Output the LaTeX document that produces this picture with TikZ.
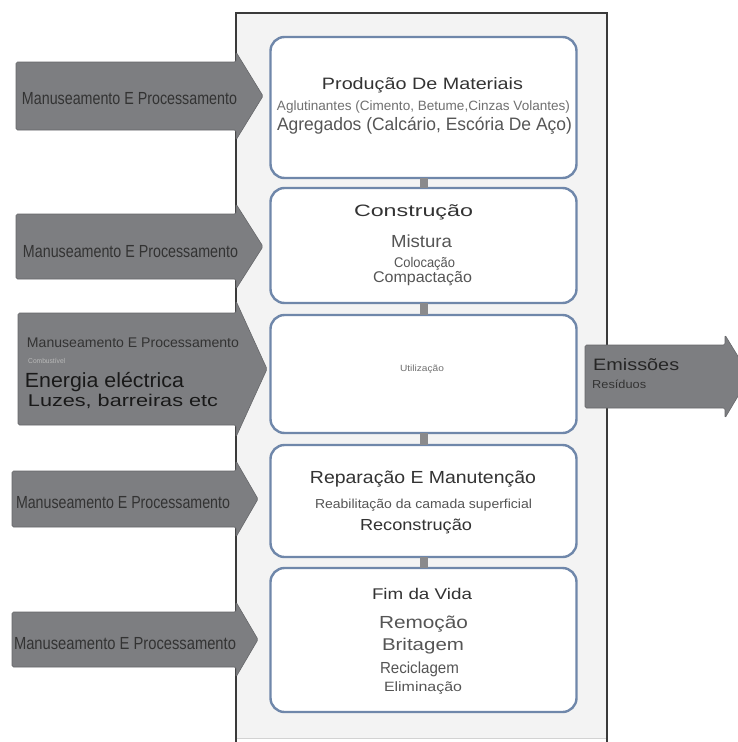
\documentclass[tikz,border=0pt]{standalone}
\usepackage{fontspec}
\setmainfont{Liberation Sans}
\usepackage{graphicx}
\newcommand\ftxt[3]{{\fontsize{#1}{#1}\selectfont\resizebox{#2pt}{\height}{#3}}}
\definecolor{boxc}{HTML}{6F87AA}
\definecolor{linkc}{HTML}{8A8A8C}
\definecolor{arrc}{HTML}{7D7E81}
\definecolor{arrd}{HTML}{66676A}
\definecolor{contf}{HTML}{F3F3F3}
\definecolor{contd}{HTML}{3A3A3A}
\definecolor{ta}{HTML}{333333}
\definecolor{tb}{HTML}{555555}
\definecolor{tc}{HTML}{707070}
\begin{document}
\begin{tikzpicture}[x=1pt,y=-1pt,
  stage/.style={draw=boxc, line width=2.4pt, fill=white, rounded corners=14pt, minimum width=306pt, inner sep=0},
  link/.style={draw=linkc, line width=8pt},
  flow/.style={fill=arrc, draw=arrd, line width=0.6pt, rounded corners=1.5pt},
  lbl/.style={inner sep=0, anchor=base},
  lblw/.style={inner sep=0, anchor=base west}]
\useasboundingbox (0,0) rectangle (738,742);
\fill[white] (0,0) rectangle (738,742);
% container
\fill[contf] (236,13) rectangle (607,738);
\draw[contd, line width=2pt] (236,742) -- (236,13) -- (607,13) -- (607,742);
\draw[gray!35, line width=1pt] (237,738) -- (606,738);
% stages
\node[stage, minimum height=141pt] (b1) at (423.5,107.5) {};
\node[stage, minimum height=115pt] (b2) at (423.5,245.5) {};
\node[stage, minimum height=118pt] (b3) at (423.5,374) {};
\node[stage, minimum height=112pt] (b4) at (423.5,501) {};
\node[stage, minimum height=144pt] (b5) at (423.5,640) {};
\draw[link] ([yshift=1pt]b1.south) -- ([yshift=-1pt]b2.north);
\draw[link] ([yshift=1pt]b2.south) -- ([yshift=-1pt]b3.north);
\draw[link] ([yshift=1pt]b3.south) -- ([yshift=-1pt]b4.north);
\draw[link] ([yshift=1pt]b4.south) -- ([yshift=-1pt]b5.north);
% left arrows
\draw[flow] (16,62) -- (236,62) -- (236,52) -- (263,96) -- (236,140) -- (236,130) -- (16,130) -- cycle;
\draw[flow] (16,214) -- (236,214) -- (236,204) -- (263,246.5) -- (236,289) -- (236,279) -- (16,279) -- cycle;
\draw[flow] (18,313) -- (236,313) -- (236,301) -- (267,369) -- (236,437) -- (236,425) -- (18,425) -- cycle;
\draw[flow] (12,471) -- (236,471) -- (236,461) -- (258,499) -- (236,537) -- (236,527) -- (12,527) -- cycle;
\draw[flow] (12,612) -- (236,612) -- (236,602) -- (258,639.5) -- (236,677) -- (236,667) -- (12,667) -- cycle;
% right arrow
\draw[flow] (585,345) -- (725,345) -- (725,335) -- (750,376) -- (725,418) -- (725,408) -- (585,408) -- cycle;
% box texts
\node[lbl, text=ta] (t1a) at (422.5,89) {\ftxt{16.5}{201}{Produção De Materiais}};
\node[lbl, text=tc] (t1b) at (423.5,110) {\ftxt{13.5}{293}{Aglutinantes (Cimento, Betume,Cinzas Volantes)}};
\node[lbl, text=tb] (t1c) at (424.5,130) {\ftxt{18}{295}{Agregados (Calcário, Escória De Aço)}};
\node[lbl, text=ta] (t2a) at (413.5,216) {\ftxt{16.5}{119}{Construção}};
\node[lbl, text=tb] (t2b) at (421.5,247) {\ftxt{17.5}{61}{Mistura}};
\node[lbl, text=tb] (t2c) at (424.5,267) {\ftxt{14}{61}{Colocação}};
\node[lbl, text=tb] (t2d) at (422.5,282) {\ftxt{15.5}{99}{Compactação}};
\node[lbl, text=tc] (t3a) at (422,371) {\ftxt{9}{44}{Utilização}};
\node[lbl, text=ta] (t4a) at (423,483) {\ftxt{17.5}{226}{Reparação E Manutenção}};
\node[lbl, text=tb] (t4b) at (423.5,508) {\ftxt{13}{217}{Reabilitação da camada superficial}};
\node[lbl, text=ta] (t4c) at (416,530) {\ftxt{16}{112}{Reconstrução}};
\node[lbl, text=ta] (t5a) at (422,599) {\ftxt{15.5}{100}{Fim da Vida}};
\node[lbl, text=tb] (t5b) at (423.5,628) {\ftxt{17.5}{89}{Remoção}};
\node[lbl, text=tb] (t5c) at (423,650) {\ftxt{17}{82}{Britagem}};
\node[lbl, text=tb] (t5d) at (419.5,673) {\ftxt{16}{79}{Reciclagem}};
\node[lbl, text=tb] (t5e) at (423,691) {\ftxt{13.5}{78}{Eliminação}};
% arrow texts
\node[lbl, text=ta] (a1) at (129.5,104) {\ftxt{17.5}{215}{Manuseamento E Processamento}};
\node[lbl, text=ta] (a2) at (130.5,257) {\ftxt{17.5}{215}{Manuseamento E Processamento}};
\node[lbl, text=ta] (a3a) at (133,347) {\ftxt{14}{212}{Manuseamento E Processamento}};
\node[lblw, text=gray!55] (a3b) at (28,363) {\ftxt{7}{37}{Combustível}};
\node[lbl, text=black!90] (a3c) at (104.5,387) {\ftxt{20.5}{159}{Energia eléctrica}};
\node[lbl, text=black!90] (a3d) at (123,406) {\ftxt{17}{190}{Luzes, barreiras etc}};
\node[lbl, text=ta] (a4) at (123,508) {\ftxt{17.5}{214}{Manuseamento E Processamento}};
\node[lbl, text=ta] (a5) at (125,649) {\ftxt{17.5}{222}{Manuseamento E Processamento}};
\node[lblw, text=black!85] (e1) at (593,370) {\ftxt{16.5}{86}{Emissões}};
\node[lblw, text=ta] (e2) at (592,388) {\ftxt{11.5}{54}{Resíduos}};
\end{tikzpicture}
\end{document}
